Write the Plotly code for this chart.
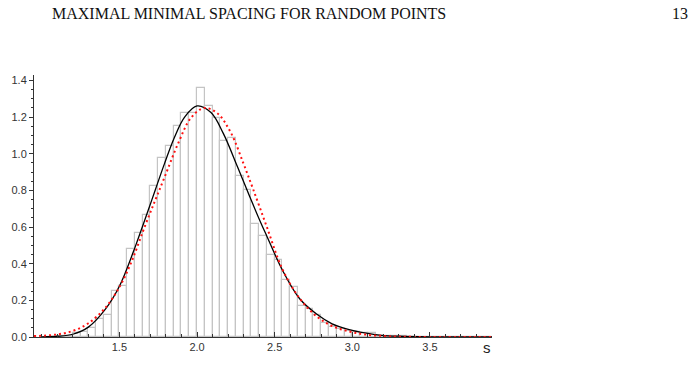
import plotly.graph_objects as go

# Histogram bins (left edges, width 0.05) and heights
bin_left = [1.10, 1.15, 1.20, 1.25, 1.30, 1.35, 1.40, 1.45, 1.50, 1.55,
            1.60, 1.65, 1.70, 1.75, 1.80, 1.85, 1.90, 1.95, 2.00, 2.05,
            2.10, 2.15, 2.20, 2.25, 2.30, 2.35, 2.40, 2.45, 2.50, 2.55,
            2.60, 2.65, 2.70, 2.75, 2.80, 2.85, 2.90, 2.95, 3.00, 3.05,
            3.10, 3.15, 3.20, 3.25, 3.30, 3.35, 3.40, 3.45, 3.50, 3.55,
            3.60, 3.65, 3.70, 3.75, 3.80, 3.85]
bin_height = [0.003, 0.008, 0.020, 0.026, 0.050, 0.100, 0.120, 0.250, 0.280, 0.480,
              0.570, 0.665, 0.826, 0.978, 1.045, 1.153, 1.225, 1.225, 1.361, 1.261,
              1.193, 1.071, 1.086, 0.877, 0.800, 0.618, 0.549, 0.447, 0.420, 0.313,
              0.275, 0.168, 0.154, 0.120, 0.075, 0.055, 0.045, 0.033, 0.028, 0.022,
              0.020, 0.008, 0.005, 0.004, 0.003, 0.002, 0.002, 0.001, 0.001, 0.001,
              0.001, 0.001, 0.001, 0.001, 0.001, 0.001]
bin_width = 0.05

# Black solid curve
black_x = [1.00, 1.10, 1.20, 1.30, 1.41, 1.50, 1.59, 1.62, 1.685, 1.73, 1.79,
           1.855, 1.92, 2.00, 2.09, 2.17, 2.26, 2.34, 2.41, 2.45, 2.55, 2.66,
           2.77, 2.87, 2.98, 3.08, 3.19, 3.30, 3.50, 3.90]
black_y = [0.001, 0.004, 0.015, 0.054, 0.152, 0.277, 0.465, 0.535, 0.690, 0.800, 0.945,
           1.090, 1.200, 1.261, 1.225, 1.110, 0.930, 0.765, 0.625, 0.550, 0.365, 0.210,
           0.125, 0.072, 0.040, 0.022, 0.009, 0.004, 0.001, 0.000]

# Red dotted curve
red_x = [0.95, 1.09, 1.20, 1.30, 1.41, 1.50, 1.58, 1.66, 1.73, 1.79, 1.88,
         1.96, 2.045, 2.13, 2.215, 2.30, 2.36, 2.45, 2.55, 2.66, 2.77, 2.87,
         2.98, 3.08, 3.19, 3.30, 3.50, 3.90]
red_y = [0.005, 0.013, 0.033, 0.075, 0.160, 0.272, 0.415, 0.595, 0.745, 0.870, 1.060,
         1.195, 1.250, 1.222, 1.120, 0.945, 0.810, 0.600, 0.370, 0.212, 0.113, 0.060,
         0.030, 0.014, 0.006, 0.002, 0.000, 0.000]

x_tickvals = [1.5, 2.0, 2.5, 3.0, 3.5]
x_ticktext = ["1.5", "2.0", "2.5", "3.0", "3.5"]
y_tickvals = [0.0, 0.2, 0.4, 0.6, 0.8, 1.0, 1.2, 1.4]
y_ticktext = ["0.0", "0.2", "0.4", "0.6", "0.8", "1.0", "1.2", "1.4"]

header_title = "MAXIMAL MINIMAL SPACING FOR RANDOM POINTS"
page_number = "13"
x_label = "s"

fig = go.Figure()
fig.add_trace(go.Bar(
    x=bin_left, y=bin_height, width=bin_width, offset=0,
    marker=dict(color="white", line=dict(color="#c4c4c4", width=1.2)),
    hoverinfo="skip",
))
fig.add_trace(go.Scatter(
    x=black_x, y=black_y, mode="lines",
    line=dict(color="black", width=1.3, shape="spline", smoothing=1.0),
))
fig.add_trace(go.Scatter(
    x=red_x, y=red_y, mode="lines",
    line=dict(color="#ff1010", width=2, dash="2px,3px", shape="spline", smoothing=1.0),
))

tick_font = dict(family="Liberation Sans, Arial, sans-serif", size=11, color="#333")
serif_font = dict(family="Liberation Serif, Times New Roman, serif", size=16, color="#111")

fig.update_layout(
    width=696, height=365,
    margin=dict(l=28, r=204, t=75, b=23),
    plot_bgcolor="white", paper_bgcolor="white",
    showlegend=False, bargap=0,
    xaxis=dict(
        range=[0.95, 3.9], showgrid=False, zeroline=False,
        showline=True, linecolor="#333", linewidth=1,
        ticks="inside", ticklen=5, tickwidth=1, tickcolor="#333",
        tickmode="array", tickvals=x_tickvals, ticktext=x_ticktext,
        tickfont=tick_font,
        minor=dict(ticks="inside", ticklen=3, tickwidth=1, tickcolor="#333",
                   tickmode="linear", tick0=1.0, dtick=0.1, showgrid=False),
    ),
    yaxis=dict(
        range=[0, 1.43], showgrid=False, zeroline=False,
        showline=True, linecolor="#333", linewidth=1,
        ticks="outside", ticklen=4, tickwidth=1, tickcolor="#333",
        tickmode="array", tickvals=y_tickvals, ticktext=y_ticktext,
        tickfont=tick_font,
        minor=dict(ticks="outside", ticklen=2.5, tickwidth=1, tickcolor="#333",
                   tickmode="linear", tick0=0, dtick=0.05, showgrid=False),
    ),
    annotations=[
        dict(text=header_title, xref="paper", yref="paper", x=0.036, y=1.235,
             xanchor="left", yanchor="middle", showarrow=False, font=serif_font),
        dict(text=page_number, xref="paper", yref="paper", x=1.432, y=1.235,
             xanchor="right", yanchor="middle", showarrow=False, font=serif_font),
        dict(text=x_label, xref="paper", yref="paper", x=0.99, y=-0.04,
             xanchor="center", yanchor="middle", showarrow=False,
             font=dict(family="Liberation Sans, Arial, sans-serif", size=15, color="#222")),
    ],
)

fig.write_html("out.html")
